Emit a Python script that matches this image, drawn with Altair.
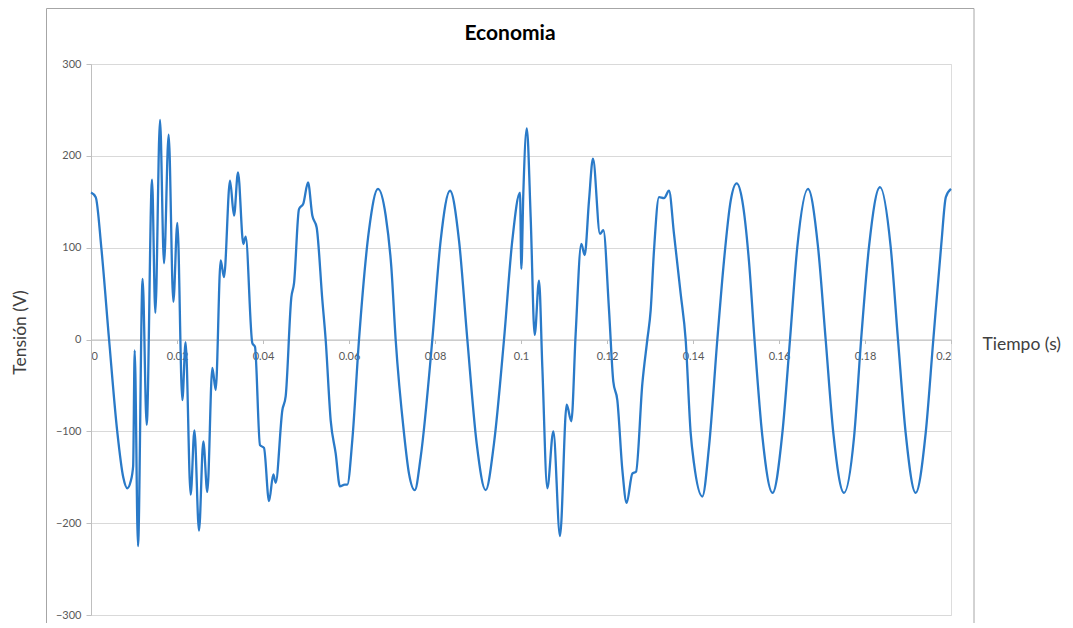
import altair as alt
import pandas as pd

# Time (s) and voltage (V)
tiempo = [
    0.0000, 0.0011, 0.0024, 0.0042, 0.0061, 0.0075, 0.00845, 0.0092, 0.0098, 0.01016,
    0.01093, 0.0120, 0.01295, 0.01419, 0.01496, 0.01605, 0.01698, 0.01806, 0.01915, 0.02008,
    0.02124, 0.0220, 0.02318, 0.02405, 0.02512, 0.02612, 0.02705, 0.02822, 0.0290, 0.03016,
    0.03093, 0.03233, 0.03326, 0.03419, 0.03543, 0.03597, 0.03752, 0.03814, 0.0393, 0.04023,
    0.0414, 0.0424, 0.04295, 0.0445, 0.04527, 0.04659, 0.04721, 0.04837, 0.04938, 0.05047,
    0.05147, 0.05248, 0.0538, 0.05457, 0.05574, 0.0569, 0.0579, 0.0590, 0.05961, 0.06078,
    0.06233, 0.06465, 0.06674, 0.06853, 0.06984, 0.07085, 0.07279, 0.07395, 0.0753, 0.07667,
    0.07938, 0.08132, 0.08349, 0.08558, 0.08752, 0.08969, 0.09178, 0.09372, 0.09605, 0.09798,
    0.09977, 0.10008, 0.10054, 0.10135, 0.10225, 0.10318, 0.10419, 0.10496, 0.10612, 0.10752,
    0.10907, 0.11062, 0.11171, 0.11271, 0.11403, 0.11481, 0.11581, 0.11674, 0.11837, 0.11915,
    0.12047, 0.12147, 0.1224, 0.12357, 0.12457, 0.12589, 0.12675, 0.12822, 0.12938, 0.13016,
    0.13093, 0.1321, 0.13326, 0.13442, 0.13558, 0.13713, 0.13829, 0.13946, 0.14023, 0.14217,
    0.14372, 0.14566, 0.14721, 0.14876, 0.15016, 0.15147, 0.15302, 0.1543, 0.15612, 0.1585,
    0.16078, 0.16256, 0.16426, 0.16674, 0.16907, 0.17085, 0.17264, 0.17512, 0.17744, 0.1791,
    0.18093, 0.18349, 0.18597, 0.18767, 0.18946, 0.19178, 0.19411, 0.19589, 0.19775, 0.1988,
    0.2000,
]
tension = [
    160, 155, 100, 0, -100, -150, -162, -155, -138, -12,
    -225, 66, -93, 174, 29, 239, 83, 223, 41, 127,
    -66, -3, -169, -99, -208, -111, -166, -31, -55, 86,
    68, 173, 135, 182, 104, 112, -4, -8, -115, -118,
    -176, -147, -156, -77, -62, 46, 61, 142, 148, 171,
    135, 122, 43, 0, -88, -124, -160, -158, -158, -109,
    0, 119, 164, 135, 79, 0, -102, -146, -164, -128,
    0, 108, 162, 108, 0, -113, -164, -113, 0, 108,
    160, 77, 159, 230, 133, 5, 64, -30, -162, -100,
    -214, -71, -89, 6, 104, 92, 151, 197, 115, 119,
    32, -46, -66, -142, -178, -146, -144, -48, 0, 32,
    97, 155, 154, 162, 115, 50, 0, -102, -135, -171,
    -117, 0, 86, 151, 170, 151, 85, 0, -105, -167,
    -102, 0, 101, 164, 101, 0, -102, -167, -107, 0,
    101, 166, 101, 0, -102, -167, -102, 0, 104, 155,
    164,
]

x_ticks = [0, 0.02, 0.04, 0.06, 0.08, 0.1, 0.12, 0.14, 0.16, 0.18, 0.2]
y_ticks = [-300, -200, -100, 0, 100, 200, 300]
chart_title = ["Economia"]

df = pd.DataFrame({"Tiempo": tiempo, "Tension": tension})

W, H = 860, 551
FONT = "Lato"

frame = alt.Chart(pd.DataFrame({"k": [0]})).mark_rect(
    fill="transparent", stroke="#a6a6a6", strokeWidth=1
).encode(
    x=alt.value(-44.5), x2=alt.value(883), y=alt.value(-55.5), y2=alt.value(590)
)

title = alt.Chart(pd.DataFrame({"t": chart_title})).mark_text(
    font=FONT, fontSize=21, fontWeight="bold", color="#000000",
    align="center", baseline="middle",
).encode(text="t:N", x=alt.value(419), y=alt.value(-30))

line = alt.Chart(df).mark_line(
    color="#2a7ac8", strokeWidth=2.3, interpolate="monotone"
).encode(
    x=alt.X(
        "Tiempo:Q",
        scale=alt.Scale(domain=[0, 0.2], nice=False, zero=False),
        axis=alt.Axis(
            values=x_ticks, format="~g", offset=-H / 2, grid=False,
            domainColor="#bfbfbf", tickColor="#bfbfbf", tickSize=4,
            labelColor="#595959", labelFontSize=11, labelPadding=7, labelFont=FONT,
            title="Tiempo (s)", titleX=891, titleY=4.5, titleAlign="left",
            titleBaseline="middle", titleFontSize=17.5, titleFontWeight="normal",
            titleColor="#404040", titleFont=FONT, titleAngle=0,
        ),
    ),
    y=alt.Y(
        "Tension:Q",
        scale=alt.Scale(domain=[-300, 300], nice=False),
        axis=alt.Axis(
            values=y_ticks, grid=True, gridColor="#d9d9d9", gridWidth=1,
            domainColor="#bfbfbf", tickColor="#bfbfbf", tickSize=5,
            labelColor="#595959", labelFontSize=11, labelPadding=5, labelFont=FONT,
            title="Tensión (V)", titleX=-71, titleY=268, titleAlign="center",
            titleBaseline="middle", titleFontSize=17.5, titleFontWeight="normal",
            titleColor="#404040", titleFont=FONT,
        ),
    ),
)

chart = alt.layer(frame, title, line).properties(
    width=W, height=H,
    autosize=alt.AutoSizeParams(type="none"),
    padding={"left": 83, "top": 56, "right": 110, "bottom": 8},
).configure_view(stroke=None).configure(background="white")

chart.save("out.html", embed_options={"renderer": "svg", "actions": False})
